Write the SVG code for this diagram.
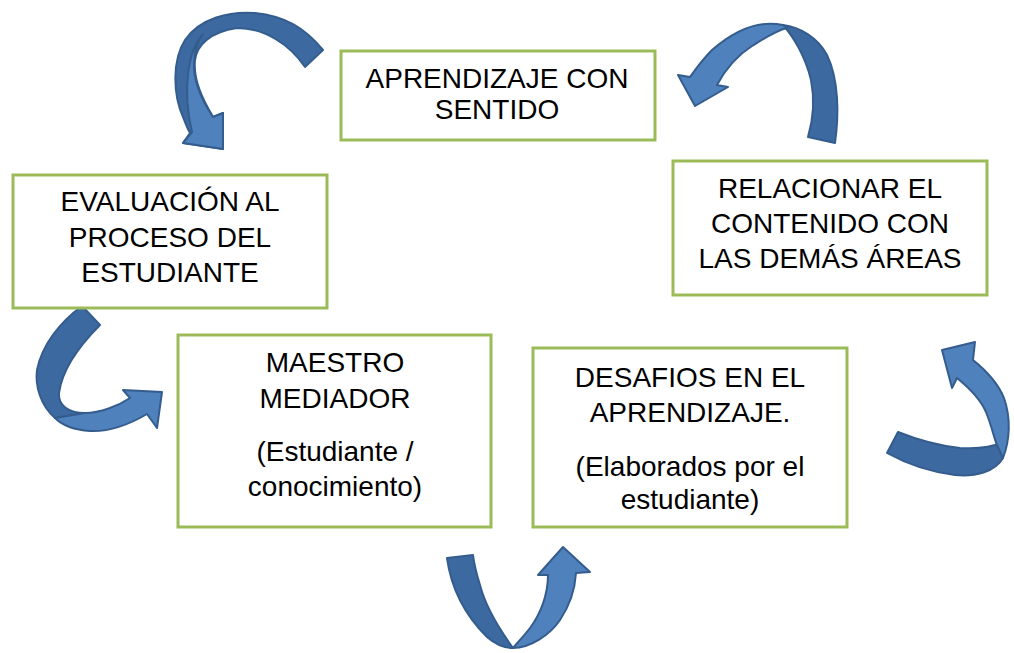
<svg xmlns="http://www.w3.org/2000/svg" width="1014" height="653" viewBox="0 0 1014 653">
<style>
.box{fill:#fff;stroke:#9bbb59;stroke-width:3}
.t{font-family:"Liberation Sans",Arial,sans-serif;font-size:28px;fill:#000;text-anchor:middle}
.dk{fill:#3d69a1;stroke:#345d8e;stroke-width:2;stroke-linejoin:round}
.lt{fill:#4f81bd;stroke:#345d8e;stroke-width:2;stroke-linejoin:round}
</style>
<rect width="1014" height="653" fill="#fff"/>
<g id="connectors">
  <g id="arrow-top-left">
    <path class="dk" d="M323,50 C305,28 285,16 255,13 C230,11 200,18 185,40 C172,60 173,95 183,117 C186,125 188,130 190,133 L183,143 L223,149 L223,113 L213,117 C203,100 193,80 195,60 C197,45 210,32 237,28 C265,28 290,45 305,67 Z"/>
    <path class="lt" d="M203,34 C188,50 182,90 192,132 L183,143 L223,149 L223,113 L213,117 C201,99 193,80 194,62 C195,50 198,40 203,34 Z"/>
  </g>
  <g id="arrow-top-right">
    <path class="dk" d="M808,137 L835,143 C839,115 839,80 827,55 C818,38 800,27 783,25 C792,35 805,55 811,80 C815,100 813,120 808,137 Z"/>
    <path class="lt" d="M783,25 C760,20 735,30 712,50 C702,60 695,70 690,77 L678,75 L695,106 L728,87 L717,85 C725,70 738,55 752,46 C765,38 775,31 787,28 Z"/>
  </g>
  <g id="arrow-left">
    <path class="dk" d="M82,306 L100,325 C80,345 62,370 59,393 C58,405 68,413 85,413 L55,418 C40,405 35,385 37,370 C42,345 60,322 82,306 Z"/>
    <path class="lt" d="M85,413 C100,413 118,406 130,398 L123,390 L162,392 L157,428 L147,414 C130,424 110,432 90,431 C75,430 62,425 55,418 Z"/>
  </g>
  <g id="arrow-right">
    <path class="dk" d="M898,432 L887,453 C905,463 930,472 955,475 C975,477 995,472 1003,458 L1003,442 C990,448 975,449 960,448 C940,446 918,440 898,432 Z"/>
    <path class="lt" d="M1003,458 C1010,440 1011,418 1004,398 C998,383 988,372 973,360 L975,342 L942,350 L952,388 L957,378 C968,387 980,398 986,412 C992,427 994,438 997,445 Z"/>
  </g>
  <g id="arrow-bottom">
    <path class="dk" d="M447,558 C450,580 460,610 487,637 C495,644 505,648 513,648 C500,630 485,605 480,585 C476,572 474,563 473,555 Z"/>
    <path class="lt" d="M513,648 C530,648 550,635 560,620 C570,605 575,590 576,573 L590,572 L563,547 L538,575 L548,575 C548,595 540,615 530,628 C523,637 517,643 513,648 Z"/>
  </g>
</g>
<g id="node-aprendizaje">
  <rect class="box" x="341" y="51" width="314" height="89"/>
  <text class="t" x="497" y="88">APRENDIZAJE CON</text>
  <text class="t" x="497" y="119">SENTIDO</text>
</g>
<g id="node-evaluacion">
  <rect class="box" x="13" y="175" width="314" height="133"/>
  <text class="t" x="170" y="211">EVALUACIÓN AL</text>
  <text class="t" x="170" y="247">PROCESO DEL</text>
  <text class="t" x="170" y="282">ESTUDIANTE</text>
</g>
<g id="node-relacionar">
  <rect class="box" x="673" y="161" width="314" height="134"/>
  <text class="t" x="830" y="198">RELACIONAR EL</text>
  <text class="t" x="830" y="233">CONTENIDO CON</text>
  <text class="t" x="830" y="268">LAS DEMÁS ÁREAS</text>
</g>
<g id="node-maestro">
  <rect class="box" x="178" y="335" width="313" height="192"/>
  <text class="t" x="335" y="372">MAESTRO</text>
  <text class="t" x="335" y="408">MEDIADOR</text>
  <text class="t" x="335" y="461">(Estudiante /</text>
  <text class="t" x="335" y="496">conocimiento)</text>
</g>
<g id="node-desafios">
  <rect class="box" x="533" y="348" width="314" height="179"/>
  <text class="t" x="690" y="387">DESAFIOS EN EL</text>
  <text class="t" x="690" y="422">APRENDIZAJE.</text>
  <text class="t" x="690" y="476">(Elaborados por el</text>
  <text class="t" x="690" y="509">estudiante)</text>
</g>
</svg>
